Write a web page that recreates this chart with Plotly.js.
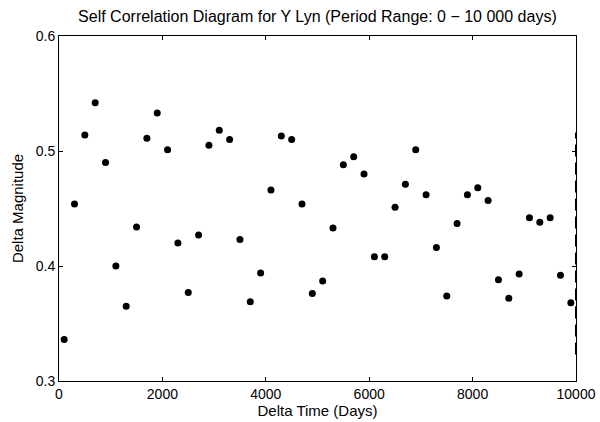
<!DOCTYPE html>
<html>
<head>
<meta charset="utf-8">
<script src="https://cdn.plot.ly/plotly-3.0.1.min.js"></script>
<style>html,body{margin:0;padding:0;background:#fff;}#chart{width:600px;height:422px;}</style>
</head>
<body>
<div id="chart"></div>
<script>
var deltaTime = [100, 300, 500, 700, 900, 1100, 1300, 1500, 1700, 1900,
  2100, 2300, 2500, 2700, 2900, 3100, 3300, 3500, 3700, 3900,
  4100, 4300, 4500, 4700, 4900, 5100, 5300, 5500, 5700, 5900,
  6100, 6300, 6500, 6700, 6900, 7100, 7300, 7500, 7700, 7900,
  8100, 8300, 8500, 8700, 8900, 9100, 9300, 9500, 9700, 9900];
var deltaMag = [0.336, 0.454, 0.514, 0.542, 0.490, 0.400, 0.365, 0.434, 0.511, 0.533,
  0.501, 0.420, 0.377, 0.427, 0.505, 0.518, 0.510, 0.423, 0.369, 0.394,
  0.466, 0.513, 0.510, 0.454, 0.376, 0.387, 0.433, 0.488, 0.495, 0.480,
  0.408, 0.408, 0.451, 0.471, 0.501, 0.462, 0.416, 0.374, 0.437, 0.462,
  0.468, 0.457, 0.388, 0.372, 0.393, 0.442, 0.438, 0.442, 0.392, 0.368];
var edgeX = [10000, 10000];
var edgeY = [0.323, 0.516];
var xTicks = [0, 2000, 4000, 6000, 8000, 10000];
var yTicks = [0.3, 0.4, 0.5, 0.6];
var yTickText = ['0.3', '0.4', '0.5', '0.6'];

var family = 'Liberation Sans, Arial, sans-serif';
var font = {family: family, size: 14, color: '#000'};
var titleFont = {family: family, size: 15, color: '#000'};

var traces = [
  {x: edgeX, y: edgeY, mode: 'lines', type: 'scatter',
   line: {color: '#000', width: 2, dash: '12px,6px'}, hoverinfo: 'skip', showlegend: false},
  {x: deltaTime, y: deltaMag, mode: 'markers', type: 'scatter',
   marker: {color: '#000', size: 7, symbol: 'circle'}, showlegend: false}
];

var axisCommon = {
  showgrid: false, zeroline: false, showline: true, linecolor: '#000', linewidth: 1,
  mirror: 'ticks', ticks: 'inside', ticklen: 4, tickcolor: '#000', tickwidth: 1,
  tickfont: font
};

var layout = {
  width: 600, height: 422,
  margin: {l: 59, r: 24, t: 36, b: 41, pad: 0},
  paper_bgcolor: '#fff', plot_bgcolor: '#fff',
  font: font,
  title: {text: 'Self Correlation Diagram for Y Lyn (Period Range: 0 \u2212 10 000 days)',
          font: {family: family, size: 16, color: '#000'},
          x: 0.529, xanchor: 'center', y: 0.96, yanchor: 'middle'},
  xaxis: Object.assign({}, axisCommon, {
    range: [0, 10000], tickvals: xTicks, ticktext: xTicks.map(String),
    title: {text: 'Delta Time (Days)', font: titleFont, standoff: 1}
  }),
  yaxis: Object.assign({}, axisCommon, {
    range: [0.3, 0.6], tickvals: yTicks, ticktext: yTickText,
    title: {text: 'Delta Magnitude', font: titleFont, standoff: 8}
  })
};

Plotly.newPlot('chart', traces, layout, {displayModeBar: false, staticPlot: true});
</script>
</body>
</html>
